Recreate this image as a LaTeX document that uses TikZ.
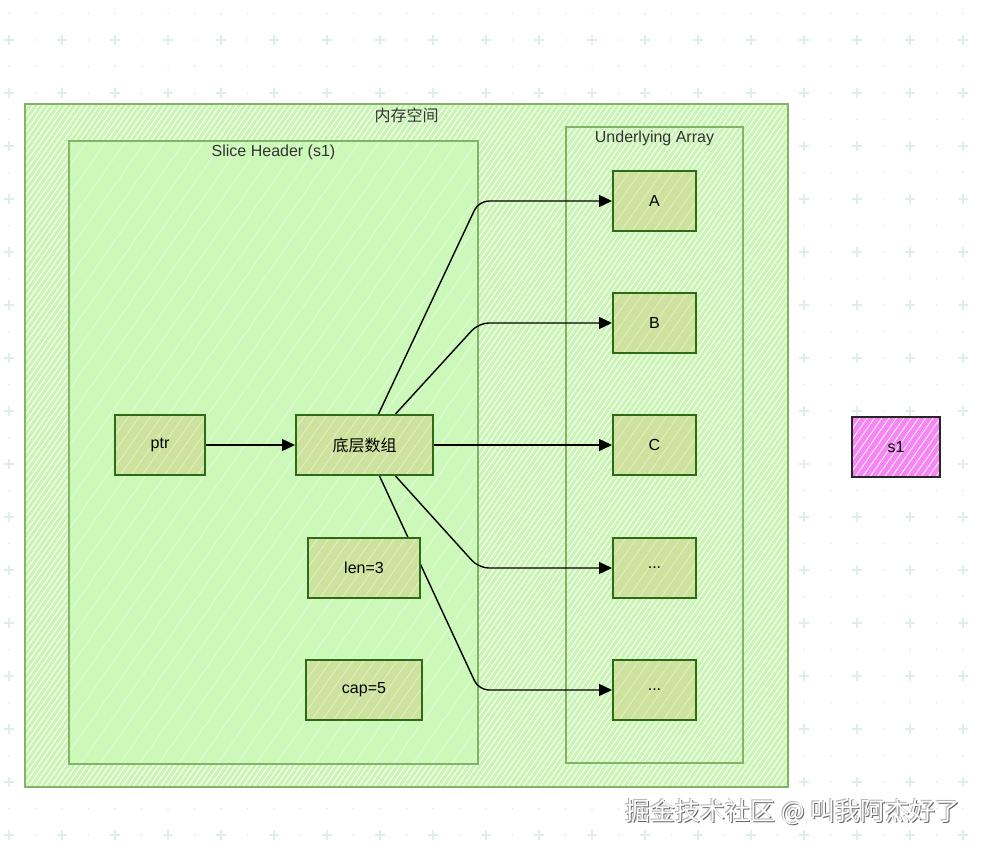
\documentclass[tikz,border=0pt]{standalone}
\usepackage{fontspec}
\setmainfont{Liberation Sans}
\newfontfamily\cjk{Noto Sans CJK SC}
\usetikzlibrary{arrows.meta,patterns.meta,calc}
\pgfdeclarelayer{bg}
\pgfdeclarelayer{mid}
\pgfsetlayers{bg,mid,main}
\definecolor{gridc}{HTML}{E0ECEE}
\definecolor{dotc}{HTML}{E6EDEE}
\definecolor{contfill}{HTML}{C9F5B3}
\definecolor{hdrfill}{HTML}{CCF8BA}
\definecolor{contline}{HTML}{82B366}
\definecolor{nodefill}{HTML}{CDE29C}
\definecolor{nodeline}{HTML}{2D6B14}
\definecolor{magfill}{HTML}{F785F5}
\definecolor{txt}{HTML}{333333}
\begin{document}
\begin{tikzpicture}[x=1pt,y=-1pt,
  cont/.style={draw=contline, line width=1.5pt,
    preaction={fill=contfill},
    preaction={pattern={Lines[angle=55,distance=4.5pt,line width=1pt]}, pattern color=white},
    inner sep=0pt},
  hdrbox/.style={draw=contline, line width=1.5pt,
    preaction={fill=hdrfill},
    preaction={pattern={Lines[angle=55,distance=16pt,line width=0.6pt]}, pattern color=white!60!hdrfill},
    inner sep=0pt},
  ctitle/.style={text=txt, font=\fontsize{16}{19}\selectfont, inner sep=0pt},
  box/.style={draw=nodeline, line width=2pt,
    preaction={fill=nodefill},
    preaction={pattern={Lines[angle=55,distance=9pt,line width=0.6pt]}, pattern color=white!60!nodefill},
    minimum height=60pt, inner sep=0pt, text=black, font=\fontsize{16}{19}\selectfont},
  magbox/.style={draw=black!85, line width=2.2pt,
    preaction={fill=magfill},
    preaction={pattern={Lines[angle=55,distance=6pt,line width=0.8pt]}, pattern color=white},
    minimum width=88pt, minimum height=60pt, inner sep=0pt, text=black, font=\fontsize{16}{19}\selectfont},
  conn/.style={draw=black, line width=1.4pt, rounded corners=10pt, -{Triangle[length=13pt,width=12pt]}},
  wmtext/.style={font=\cjk\fontsize{25}{30}\selectfont, inner sep=0pt}
]
\useasboundingbox (0,0) rectangle (985,851);
\begin{pgfonlayer}{bg}
\fill[white] (0,0) rectangle (985,851);
\foreach \i in {0,...,37}{\foreach \j in {0,...,32}{
  \fill[dotc] ({9+26.5*\i},{13.5+26.5*\j}) circle (1pt);}}
\foreach \i in {0,2,...,36}{\foreach \j in {1,3,...,31}{
  \draw[gridc,line width=1.1pt] ({9+26.5*\i-5},{13.5+26.5*\j}) -- ++(10,0)
    ({9+26.5*\i},{13.5+26.5*\j-5}) -- ++(0,10);}}
\node[cont, minimum width=763pt, minimum height=683pt] (mem) at (406.5,445.5) {};
\node[hdrbox, minimum width=409pt, minimum height=623pt] (hdr) at (273.5,452.5) {};
\node[cont, minimum width=177pt, minimum height=636pt] (ua) at (654.5,445) {};
\end{pgfonlayer}

\node[ctitle] (memt) at ([yshift=-12pt]mem.north) {\cjk 内存空间};
\node[ctitle] (hdrt) at ([yshift=-12pt]hdr.north) {Slice Header (s1)};
\node[ctitle] (uat) at ([yshift=-12pt]ua.north) {Underlying Array};

\node[box, minimum width=90pt] (ptr) at (160,445) {ptr};
\node[box, minimum width=137pt] (arr) at (364.5,445) {\cjk 底层数组};
\node[box, minimum width=112pt] (len) at (364,568) {len=3};
\node[box, minimum width=116pt] (cap) at (364,690) {cap=5};
\node[box, minimum width=83pt] (A) at (654.5,201) {A};
\node[box, minimum width=83pt] (B) at (654.5,323) {B};
\node[box, minimum width=83pt] (C) at (654.5,445) {C};
\node[box, minimum width=83pt] (D) at (654.5,568) {...};
\node[box, minimum width=83pt] (E) at (654.5,690) {...};
\node[magbox] (s1) at (896,447) {s1};

\begin{pgfonlayer}{mid}
\draw[conn] (ptr) -- (arr);
\draw[conn] ([xshift=14pt]arr.north) -- (A.west -| hdr.east) -- (A.west);
\draw[conn] ([xshift=31pt]arr.north) -- (B.west -| hdr.east) -- (B.west);
\draw[conn] (arr) -- (C);
\draw[conn] ([xshift=31pt]arr.south) -- (D.west -| hdr.east) -- (D.west);
\draw[conn] ([xshift=15pt]arr.south) -- (E.west -| hdr.east) -- (E.west);
\end{pgfonlayer}

\node[wmtext, text=black!60] (wms1) at (794.3,813.3) {掘金技术社区 @ 叫我阿杰好了};
\node[wmtext, text=black!30] (wms2) at (792.4,811.4) {掘金技术社区 @ 叫我阿杰好了};
\node[wmtext, text=white] (wm) at (793,812) {掘金技术社区 @ 叫我阿杰好了};
\end{tikzpicture}
\end{document}
